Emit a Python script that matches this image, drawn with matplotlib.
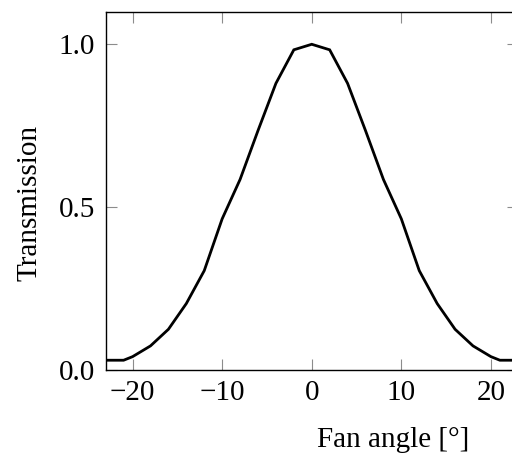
import matplotlib
matplotlib.use("Agg")
import matplotlib.pyplot as plt

# Data
fan_angle = [-23, -21, -20, -18, -16, -14, -12, -10, -8, -6, -4, -2, 0,
             2, 4, 6, 8, 10, 12, 14, 16, 18, 20, 21, 23]
transmission = [0.03, 0.03, 0.041, 0.074, 0.125, 0.204, 0.305, 0.464, 0.585, 0.735, 0.88, 0.983, 1.0,
                0.983, 0.88, 0.735, 0.585, 0.464, 0.305, 0.204, 0.125, 0.074, 0.041, 0.03, 0.03]

x_ticks = [-20, -10, 0, 10, 20]
y_ticks = [0.0, 0.5, 1.0]
y_ticklabels = ["0.0", "0.5", "1.0"]

plt.rcParams["font.family"] = ["Liberation Serif", "DejaVu Serif"]
plt.rcParams["font.size"] = 21
plt.rcParams["axes.unicode_minus"] = True

fig = plt.figure(figsize=(5.12, 4.66), dpi=100)
# axes box runs past the right edge of the figure, as in the reference
ax = fig.add_axes([105.7 / 512, (466 - 370) / 466, 412.1 / 512, 358.3 / 466])

ax.plot(fan_angle, transmission, color="black", linewidth=2.0, solid_joinstyle="miter")

ax.set_xlim(-23, 23)
ax.set_ylim(0, 1.1)
ax.set_xticks(x_ticks)
ax.set_yticks(y_ticks)
ax.set_yticklabels(y_ticklabels)

ax.tick_params(direction="in", length=8, width=0.8, color="#8c8c8c",
               top=True, right=True, pad=7.5, labelsize=21)
for s in ax.spines.values():
    s.set_linewidth(1.0)

ax.set_xlabel("Fan angle [°]")
ax.xaxis.set_label_coords(0.697, -0.195)
ax.xaxis.label.set_va("center")

ax.set_ylabel("Transmission")
ax.yaxis.set_label_coords(-0.184, 0.465)
ax.yaxis.label.set_va("center")

fig.savefig("out.png", dpi=100)
